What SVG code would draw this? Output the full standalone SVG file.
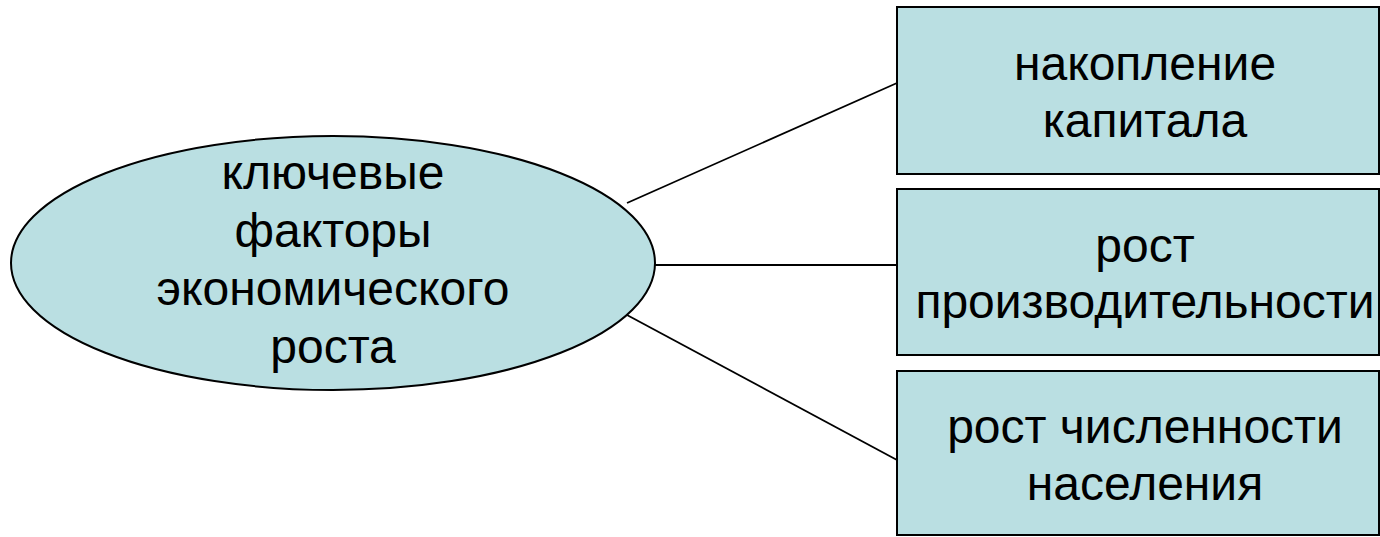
<svg xmlns="http://www.w3.org/2000/svg" width="1380" height="537" viewBox="0 0 1380 537">
<style>
.n{fill:#badfe2;stroke:#000;stroke-width:2}
.t{font-family:"Liberation Sans",Arial,sans-serif;font-size:48px;fill:#000;text-anchor:middle}
.c{stroke:#000;stroke-width:1.8;fill:none}
</style>
<rect width="1380" height="537" fill="#fff"/>
<g id="connectors">
<line class="c" x1="627" y1="203" x2="897" y2="83"/>
<line class="c" x1="655" y1="265" x2="897" y2="265"/>
<line class="c" x1="627" y1="315" x2="897" y2="460"/>
</g>
<g id="center">
<ellipse class="n" cx="333" cy="263" rx="322" ry="127"/>
<text class="t" x="333" y="189">ключевые</text>
<text class="t" x="333" y="247">факторы</text>
<text class="t" x="333" y="305">экономического</text>
<text class="t" x="333" y="363">роста</text>
</g>
<g id="box1">
<rect class="n" x="897" y="7" width="482" height="167"/>
<text class="t" x="1145" y="80">накопление</text>
<text class="t" x="1145" y="137">капитала</text>
</g>
<g id="box2">
<rect class="n" x="897" y="189" width="482" height="166"/>
<text class="t" x="1145" y="262">рост</text>
<text class="t" x="1145" y="318">производительности</text>
</g>
<g id="box3">
<rect class="n" x="897" y="371" width="482" height="164"/>
<text class="t" x="1145" y="443">рост численности</text>
<text class="t" x="1145" y="500">населения</text>
</g>
</svg>
